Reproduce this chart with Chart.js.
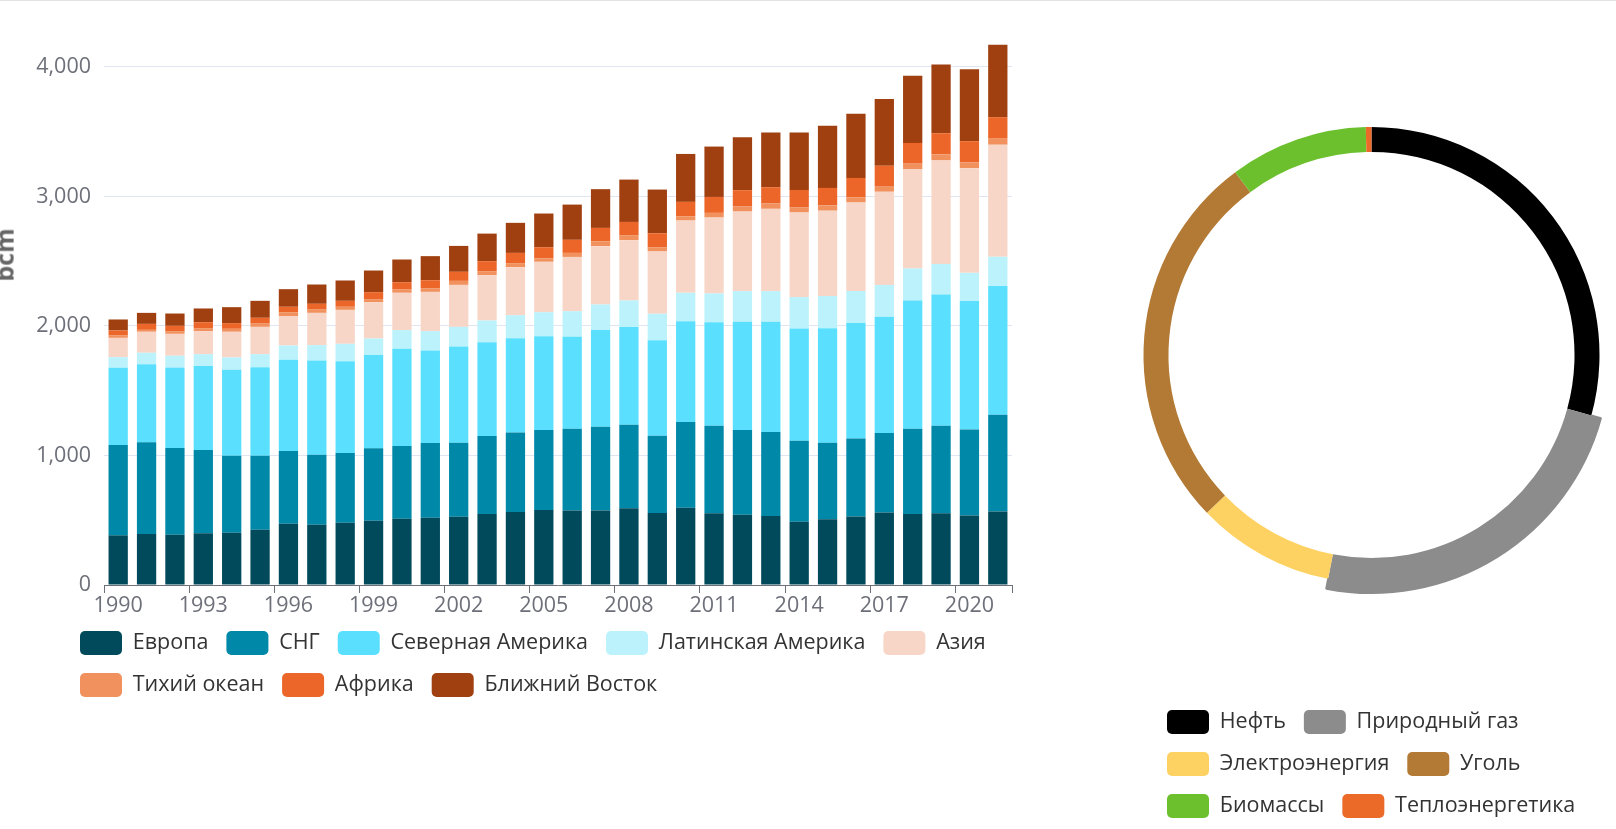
<!DOCTYPE html>
<html>
<head>
<meta charset="utf-8">
<script src="https://cdn.jsdelivr.net/npm/chart.js@4/dist/chart.umd.min.js"></script>
<style>
  html, body { margin: 0; padding: 0; background: #fff; overflow: hidden; }
  #page { position: relative; width: 1616px; height: 829px; overflow: hidden; border-top: 1px solid #e3e3e3; box-sizing: border-box; }
  #barBox { position: absolute; left: 0; top: 0; width: 1060px; height: 720px; }
  #pieBox { position: absolute; left: 1120px; top: 0; width: 496px; height: 827px; }
  #yTitle { position: absolute; left: -28px; top: 242px; height: 24px; line-height: 24px; transform: rotate(-90deg); transform-origin: center; font: bold 25px 'Open Sans', sans-serif; color: #666; white-space: nowrap; }
</style>
</head>
<body>
<div id="page">
  <div id="barBox"><canvas id="bar"></canvas></div>
  <div id="yTitle">bcm</div>
  <div id="pieBox"><canvas id="pie"></canvas></div>
</div>
<script>
// ---- data: gas consumption by region (bcm) ----
const years = [1990,1991,1992,1993,1994,1995,1996,1997,1998,1999,2000,2001,2002,2003,2004,2005,2006,2007,2008,2009,2010,2011,2012,2013,2014,2015,2016,2017,2018,2019,2020,2021];
const europe       = [383,394,388,399,404,427,473,466,481,496,512,520,527,548,563,579,576,576,592,556,597,553,543,532,488,507,529,559,548,554,537,567];
const cis          = [697,709,669,643,594,571,561,540,538,559,561,576,571,602,615,617,630,646,645,596,661,676,653,649,625,592,603,615,659,675,664,747];
const northAmerica = [597,602,623,648,664,684,705,728,709,720,751,715,744,725,728,725,710,746,754,738,779,800,836,851,868,884,890,898,989,1013,992,995];
const latinAmerica = [82,88,90,92,95,100,110,118,134,128,144,149,151,167,177,185,198,198,206,204,219,222,237,237,242,248,248,245,248,237,217,225];
const asia         = [149,162,169,178,198,211,227,249,262,281,288,303,324,350,371,389,419,450,465,481,558,586,614,635,653,659,683,719,765,799,808,865];
const pacific      = [18,15,18,23,23,29,28,29,24,23,25,26,31,31,31,26,31,38,39,33,33,36,39,41,41,41,41,44,44,47,44,47];
const africa       = [39,46,44,46,44,41,44,41,46,54,57,64,70,77,79,87,101,103,102,108,111,123,126,126,133,135,149,157,160,163,165,166];
const middleEast   = [85,85,95,106,123,131,136,149,157,167,175,186,200,213,232,260,272,299,327,337,370,389,409,422,443,479,496,515,518,531,554,559];
const regionNames  = ['Европа','СНГ','Северная Америка','Латинская Америка','Азия','Тихий океан','Африка','Ближний Восток'];
const regionColors = ['#004a5c','#0088a8','#5ae0fe','#bbf2fc','#f8d6c7','#f0915e','#eb6628','#a03f10'];
const yTickValues  = [0,1000,2000,3000,4000];

// ---- data: doughnut (share, %) ----
const sourceNames  = ['Нефть','Природный газ','Электроэнергия','Уголь','Биомассы','Теплоэнергетика'];
const sourceShares = [29.3,23.8,9.8,27.0,9.8,0.4];
const sourceColors = ['#000000','#8c8c8c','#fdd262','#b37a35','#6cc02e','#eb6a28'];
const highlighted  = 1; // enlarged slice

const FONT = "'Open Sans', sans-serif";
const AXIS = '#6e7079';
const FS = 21.5;

// width of the widest y label (used to right-align mirrored labels left of the axis)
const mctx = document.createElement('canvas').getContext('2d');
mctx.font = FS + 'px ' + FONT;
const widestY = Math.max(...yTickValues.map(v => mctx.measureText(v.toLocaleString('en-US')).width));

const regionSeries = [europe, cis, northAmerica, latinAmerica, asia, pacific, africa, middleEast];

new Chart(document.getElementById('bar'), {
  type: 'bar',
  data: {
    labels: years,
    datasets: regionSeries.map((d, i) => ({
      label: regionNames[i],
      data: d,
      backgroundColor: regionColors[i],
      borderWidth: 0,
      categoryPercentage: 1,
      barPercentage: 0.68
    }))
  },
  options: {
    responsive: true,
    maintainAspectRatio: false,
    animation: false,
    events: [],
    layout: { padding: { left: 62, right: 0, top: 40, bottom: 14 } },
    scales: {
      x: {
        stacked: true,
        grid: {
          display: true,
          drawOnChartArea: false,
          drawTicks: true,
          tickLength: 8,
          tickColor: (c) => (c.type !== 'tick' || c.index % 3 === 0) ? AXIS : 'rgba(0,0,0,0)'
        },
        border: { display: true, color: AXIS, width: 1 },
        ticks: {
          autoSkip: false,
          maxRotation: 0,
          minRotation: 0,
          padding: 0,
          color: AXIS,
          font: { family: FONT, size: FS },
          callback: (v, i) => (i % 3 === 0 ? String(years[i]) : '')
        },
        afterFit: (s) => { s.height = 28; }
      },
      y: {
        stacked: true,
        min: 0,
        max: 4200,
        grid: { color: '#e0e6f1', drawTicks: false, lineWidth: 1 },
        border: { display: false },
        ticks: {
          autoSkip: false,
          mirror: true,
          crossAlign: 'far',
          padding: -(13 + widestY),
          color: AXIS,
          font: { family: FONT, size: FS },
          callback: (v) => Number(v).toLocaleString('en-US')
        },
        afterBuildTicks: (s) => { s.ticks = yTickValues.map(v => ({ value: v })); },
        afterFit: (s) => { s.width = 42; }
      },
      yPad: {
        position: 'right',
        display: true,
        grid: { display: false, drawTicks: false },
        border: { display: false },
        ticks: { display: false },
        afterFit: (s) => { s.width = 48; }
      }
    },
    plugins: {
      tooltip: { enabled: false },
      legend: {
        position: 'bottom',
        align: 'start',
        labels: {
          boxWidth: 42,
          boxHeight: 24,
          padding: 18,
          useBorderRadius: true,
          borderRadius: 5,
          color: '#333',
          font: { family: FONT, size: FS }
        }
      }
    }
  }
});

new Chart(document.getElementById('pie'), {
  type: 'doughnut',
  data: {
    labels: sourceNames,
    datasets: [
      {
        data: sourceShares,
        backgroundColor: sourceColors.map((c, i) => (i === highlighted ? c : 'rgba(0,0,0,0)')),
        borderColor: sourceColors.map((c, i) => (i === highlighted ? c : 'rgba(0,0,0,0)')),
        borderWidth: sourceColors.map((c, i) => (i === highlighted ? 2 : 0)),
        weight: 10,
        clip: false
      },
      {
        data: sourceShares,
        backgroundColor: sourceColors,
        borderWidth: 0,
        weight: 25,
        clip: false
      }
    ]
  },
  options: {
    responsive: true,
    maintainAspectRatio: false,
    animation: false,
    events: [],
    radius: 238,
    cutout: '85.3%',
    layout: { padding: { left: 29, right: 22, top: 17, bottom: 0 } },
    plugins: {
      tooltip: { enabled: false },
      legend: {
        position: 'bottom',
        align: 'start',
        labels: {
          boxWidth: 42,
          boxHeight: 24,
          padding: 18,
          useBorderRadius: true,
          borderRadius: 5,
          color: '#333',
          font: { family: FONT, size: FS },
          generateLabels: (chart) => chart.data.labels.map((t, i) => ({
            text: t,
            fillStyle: chart.data.datasets[1].backgroundColor[i],
            strokeStyle: chart.data.datasets[1].backgroundColor[i],
            lineWidth: 0,
            fontColor: '#333',
            hidden: false,
            index: i,
            borderRadius: 5
          }))
        }
      }
    }
  }
});
</script>
</body>
</html>
